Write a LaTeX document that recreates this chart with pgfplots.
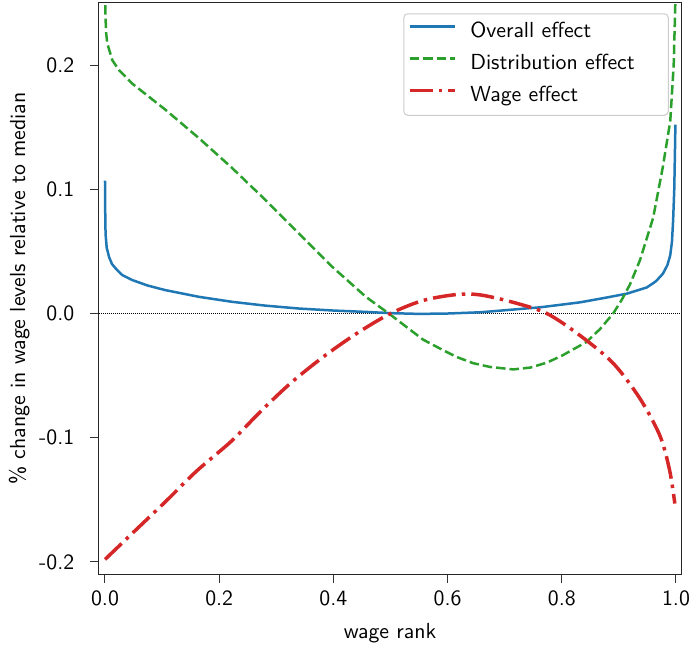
\documentclass[border=0pt]{standalone}
\usepackage{fontspec}
\usepackage{pgfplots}
\pgfplotsset{compat=1.18}
\renewcommand{\familydefault}{\sfdefault}

\definecolor{tabblue}{HTML}{1F77B4}
\definecolor{tabgreen}{HTML}{2CA02C}
\definecolor{tabred}{HTML}{D62728}

% picture is built at half size, the image is scaled up afterwards
\newcommand{\labfont}{\fontsize{10.9}{13}\selectfont}

\begin{document}
\labfont
\begin{tikzpicture}
\path[use as bounding box] (-49.5pt,-37pt) rectangle (295.5pt,287pt);
\begin{axis}[
  at={(0pt,0pt)}, anchor=south west,
  scale only axis, width=291pt, height=285.5pt,
  xmin=-0.0105, xmax=1.0088, ymin=-0.2097, ymax=0.25,
  xtick={0,0.2,0.4,0.6,0.8,1}, xticklabels={0.0,0.2,0.4,0.6,0.8,1.0},
  ytick={-0.2,-0.1,0,0.1,0.2}, yticklabels={-0.2,-0.1,0.0,0.1,0.2},
  xtick pos=bottom, ytick pos=left,
  tick align=outside, major tick length=4.5pt,
  tick style={black!80, line width=0.5pt},
  axis line style={black!85, line width=0.5pt},
  ticklabel style={font=\labfont},
  yticklabel style={xshift=-4pt},
  xlabel={wage rank},
  ylabel={\% change in wage levels relative to median},
  every axis x label/.style={at={(axis description cs:0.5,-0.1121)}, anchor=base, font=\labfont},
  every axis y label/.style={at={(axis description cs:-0.1271,0.5)}, anchor=base, rotate=90, font=\labfont},
  legend style={at={(axis description cs:0.979,0.982)}, anchor=north east,
    draw=black!20, line width=0.5pt, rounded corners=2pt, fill=white,
    inner xsep=2pt, inner ysep=3pt, row sep=3.25pt, column sep=5.5pt,
    nodes={inner sep=1.5pt, text height=7.5pt, text depth=2.25pt, font=\labfont}},
  legend cell align=left,
  legend image code/.code={\draw[#1] (0pt,3pt) -- (22.5pt,3pt);},
]
% zero reference line
\addplot[forget plot, black, line width=0.4pt, dash pattern=on 0.5pt off 0.5pt] coordinates {(-0.0105,0) (1.0088,0)};

% overall effect
\addplot[tabblue, line width=1.25pt] coordinates {
  (0.0,0.107) (0.0004,0.082) (0.001,0.064) (0.003,0.053) (0.007,0.0457)
  (0.012,0.040) (0.0187,0.0363) (0.03,0.031) (0.048,0.0269) (0.075,0.0225)
  (0.106,0.0188) (0.165,0.0134) (0.223,0.0094) (0.28,0.0064) (0.34,0.004)
  (0.40,0.0024) (0.457,0.0013) (0.5,0.0003) (0.55,-0.0003) (0.6,0.0)
  (0.657,0.001) (0.71,0.003) (0.762,0.005) (0.832,0.009) (0.88,0.013)
  (0.914,0.016) (0.949,0.021) (0.965,0.026) (0.977,0.032) (0.985,0.039)
  (0.990,0.047) (0.993,0.058) (0.995,0.075) (0.997,0.100) (0.998,0.125)
  (0.999,0.152)
};
\addlegendentry{\makebox[95.5pt][l]{Overall effect}}

% distribution effect
\addplot[tabgreen, line width=1.25pt, dash pattern=on 4.75pt off 2pt] coordinates {
  (0.0002,0.27) (0.0008,0.24) (0.002,0.226) (0.004,0.2175) (0.0128,0.204)
  (0.0245,0.196) (0.048,0.185) (0.106,0.164) (0.165,0.141) (0.223,0.117)
  (0.281,0.0914) (0.340,0.0643) (0.398,0.0376) (0.457,0.0134) (0.5,-0.001)
  (0.557,-0.021) (0.59,-0.029) (0.616,-0.035) (0.645,-0.040) (0.674,-0.043)
  (0.715,-0.045) (0.745,-0.0435) (0.774,-0.0395) (0.80,-0.034) (0.843,-0.023)
  (0.867,-0.0125) (0.89,0.0) (0.905,0.011) (0.919,0.023) (0.937,0.043)
  (0.96,0.077) (0.977,0.118) (0.990,0.155) (0.996,0.20) (1.0,0.27)
};
\addlegendentry{Distribution effect}

% wage effect
\addplot[tabred, line width=1.75pt, dash pattern=on 11.5pt off 3pt on 1.75pt off 3pt, smooth] coordinates {
  (0.0,-0.198) (0.05,-0.176) (0.107,-0.151) (0.16,-0.127) (0.222,-0.1025)
  (0.27,-0.080) (0.324,-0.0565) (0.382,-0.035) (0.441,-0.016) (0.5,0.0)
  (0.557,0.0105) (0.616,0.0153) (0.657,0.0150) (0.715,0.009) (0.774,0.0)
  (0.832,-0.0177) (0.89,-0.040) (0.937,-0.0685) (0.972,-0.0985) (0.989,-0.1265)
  (0.998,-0.153)
};
\addlegendentry{Wage effect}
\end{axis}
\end{tikzpicture}
\end{document}
